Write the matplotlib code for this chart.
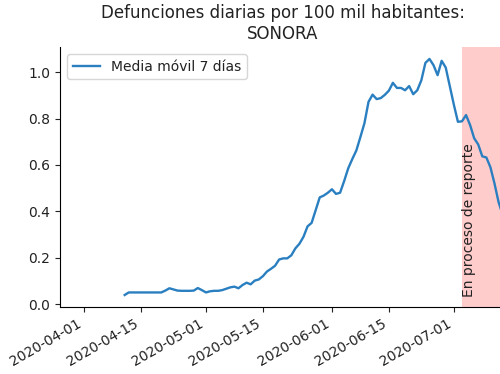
import numpy as np
import matplotlib
matplotlib.use("Agg")
import matplotlib.pyplot as plt
import matplotlib.dates as mdates

title = "Defunciones diarias por 100 mil habitantes:\nSONORA"
legend_label = "Media móvil 7 días"
span_label = "En proceso de reporte"

start_date = "2020-04-11"
values = [
    0.039, 0.050, 0.050, 0.050, 0.050, 0.050, 0.050, 0.050, 0.050, 0.050,
    0.058, 0.068, 0.063, 0.058, 0.057, 0.057, 0.057, 0.058, 0.069, 0.060,
    0.050, 0.055, 0.057, 0.057, 0.060, 0.066, 0.072, 0.075, 0.068, 0.082,
    0.092, 0.085, 0.101, 0.106, 0.120, 0.140, 0.152, 0.165, 0.192, 0.197,
    0.197, 0.210, 0.240, 0.260, 0.290, 0.335, 0.350, 0.405, 0.460, 0.468,
    0.480, 0.495, 0.475, 0.480, 0.530, 0.585, 0.625, 0.662, 0.720, 0.780,
    0.872, 0.903, 0.884, 0.888, 0.902, 0.920, 0.954, 0.932, 0.932, 0.922,
    0.940, 0.905, 0.922, 0.965, 1.040, 1.057, 1.030, 0.987, 1.049, 1.020,
    0.940, 0.860, 0.786, 0.788, 0.815, 0.772, 0.715, 0.688, 0.637, 0.632,
    0.590, 0.520, 0.440, 0.385, 0.330,
]
dates = np.datetime64(start_date) + np.arange(len(values))

span_start = np.datetime64("2020-07-03")
span_end = dates[-1]
xlim = (np.datetime64("2020-03-26T02"), np.datetime64("2020-07-13T20"))
ylim = (-0.013, 1.108)

fig = plt.figure(figsize=(5.0, 3.74), dpi=100)
ax = fig.add_axes([0.12, 0.179, 0.892, 0.695])

ax.plot(dates, values, color="#2a7fc0", lw=1.7, label=legend_label)
ax.axvspan(span_start, span_end, color="red", alpha=0.2, lw=0)
ax.text(span_start, 0.03, span_label, rotation=90, ha="left", va="bottom",
        fontsize=10, color="#222222")

ax.set_xlim(*xlim)
ax.set_ylim(*ylim)
ax.xaxis.set_major_locator(mdates.DayLocator(bymonthday=[1, 15]))
ax.xaxis.set_major_formatter(mdates.DateFormatter("%Y-%m-%d"))
for lbl in ax.get_xticklabels():
    lbl.set_rotation(30)
    lbl.set_ha("right")
ax.set_yticks([0.0, 0.2, 0.4, 0.6, 0.8, 1.0])
ax.tick_params(colors="#222222")
ax.spines["top"].set_visible(False)
ax.spines["right"].set_visible(False)
ax.set_title(title, fontsize=12, color="#222222")
leg = ax.legend(loc="upper left")
for t in leg.get_texts():
    t.set_color("#222222")

fig.savefig("out.png", dpi=100)
